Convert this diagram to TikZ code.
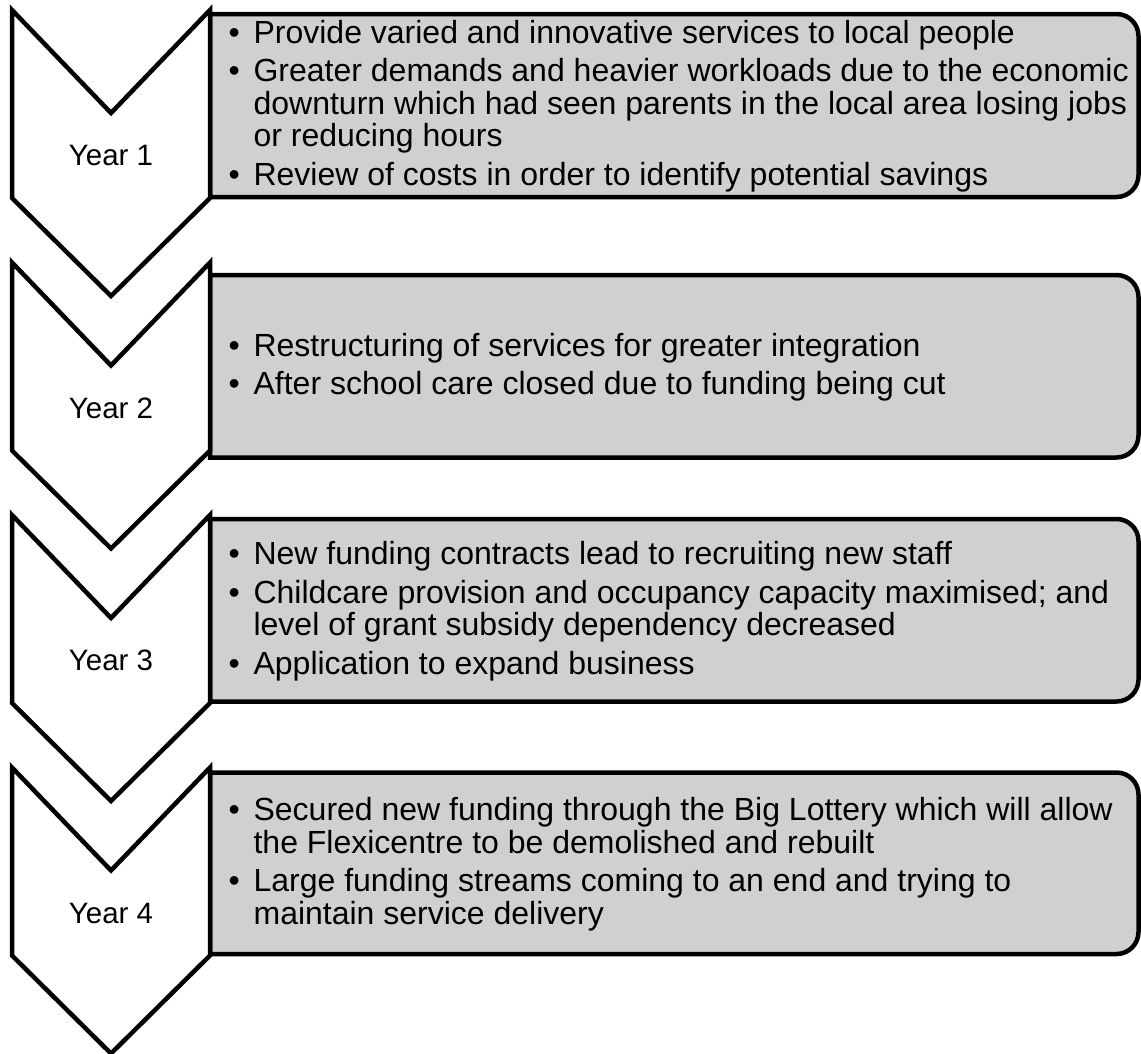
\documentclass[tikz,border=0pt]{standalone}
\usepackage{fontspec}
\setmainfont{Liberation Sans}
\definecolor{boxgray}{RGB}{208,208,208}
\newcommand\bul{\makebox[25pt][l]{•}}
\newcommand\ind{\hspace*{25pt}}
\begin{document}
\begin{tikzpicture}[x=1pt,y=-1pt,
  chev/.style={draw=black, fill=white, line width=4.5pt, line join=miter},
  infobox/.style={draw=black, fill=boxgray, line width=4.5pt, line join=miter},
  yearlbl/.style={font=\fontsize{29.5}{34}\selectfont, anchor=base, inner sep=0pt},
  bultext/.style={font=\fontsize{32}{32.5}\selectfont, align=left, anchor=west, inner sep=0pt}]
\useasboundingbox (0,0) rectangle (1141,1053);

% information boxes (square on the left, rounded on the right)
\draw[infobox] (210,14) -- (1116.5,14) arc[start angle=-90,end angle=0,radius=22]
  -- (1138.5,175) arc[start angle=0,end angle=90,radius=22] -- (210,197) -- cycle;
\draw[infobox] (210,275) -- (1116.5,275) arc[start angle=-90,end angle=0,radius=22]
  -- (1138.5,435.5) arc[start angle=0,end angle=90,radius=22] -- (210,457.5) -- cycle;
\draw[infobox] (210,519) -- (1116.5,519) arc[start angle=-90,end angle=0,radius=22]
  -- (1138.5,679.5) arc[start angle=0,end angle=90,radius=22] -- (210,701.5) -- cycle;
\draw[infobox] (210,772.5) -- (1116.5,772.5) arc[start angle=-90,end angle=0,radius=22]
  -- (1138.5,932) arc[start angle=0,end angle=90,radius=22] -- (210,954) -- cycle;

% chevrons
\foreach \t in {10,262.5,515,767.5}{
  \draw[chev] (12,\t) -- (111,\t+103) -- (210,\t) -- (210,\t+188)
    -- (111,\t+286) -- (12,\t+188) -- cycle;
}

% year labels
\node[yearlbl] (y1) at (111,165.5) {Year 1};
\node[yearlbl] (y2) at (111,418) {Year 2};
\node[yearlbl] (y3) at (111,670.5) {Year 3};
\node[yearlbl] (y4) at (111,923) {Year 4};

% box texts
\node[bultext] (t1) at (228.4,106) {%
\bul Provide varied and innovative services to local people\\[6pt]
\bul Greater demands and heavier workloads due to the economic\\
\ind downturn which had seen parents in the local area losing jobs\\
\ind or reducing hours\\[6pt]
\bul Review of costs in order to identify potential savings};

\node[bultext] (t2) at (228.4,367.3) {%
\bul Restructuring of services for greater integration\\[6pt]
\bul After school care closed due to funding being cut};

\node[bultext] (t3) at (228.4,611) {%
\bul New funding contracts lead to recruiting new staff\\[6pt]
\bul Childcare provision and occupancy capacity maximised; and\\
\ind level of grant subsidy dependency decreased\\[6pt]
\bul Application to expand business};

\node[bultext] (t4) at (228.4,864.3) {%
\bul Secured new funding through the Big Lottery which will allow\\
\ind the Flexicentre to be demolished and rebuilt\\[6pt]
\bul Large funding streams coming to an end and trying to\\
\ind maintain service delivery};
\end{tikzpicture}
\end{document}
